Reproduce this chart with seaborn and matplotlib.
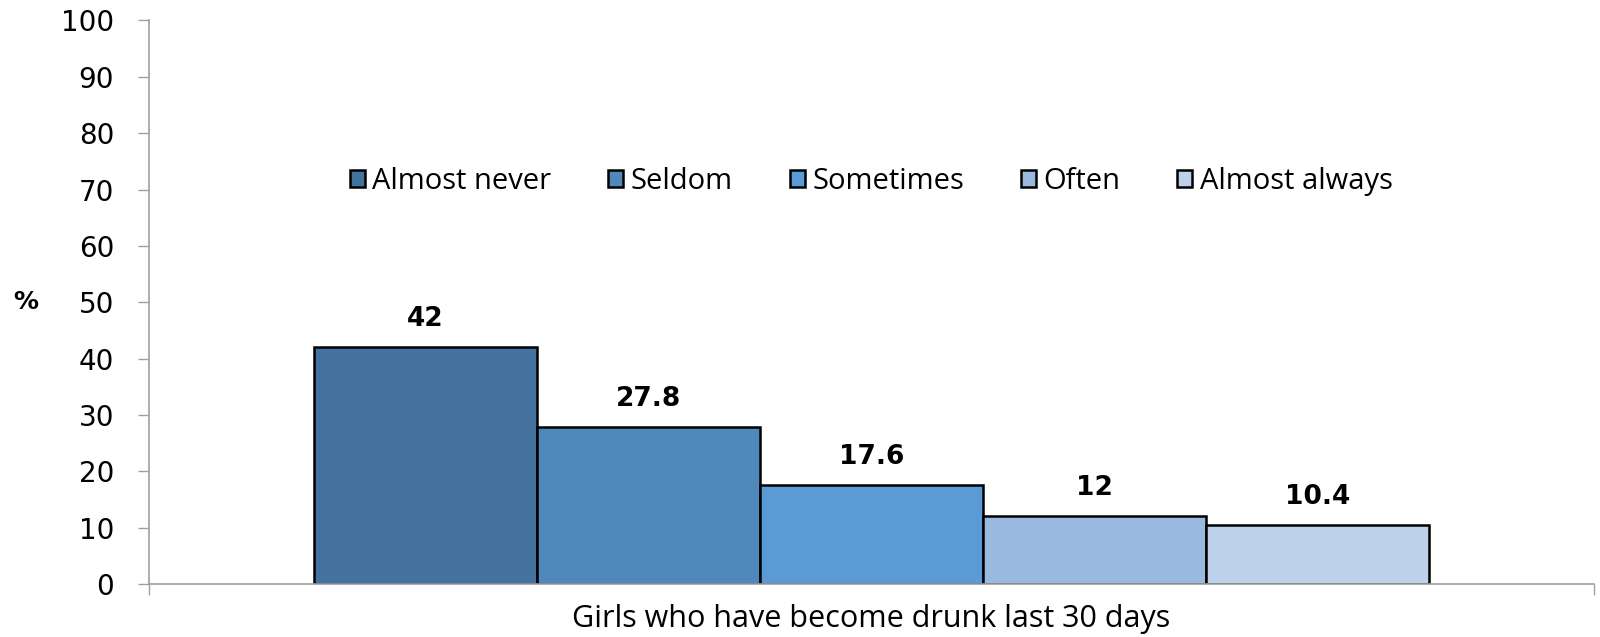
import matplotlib
matplotlib.use('Agg')
import matplotlib.pyplot as plt
import seaborn as sns
import pandas as pd

# Data
category = 'Girls who have become drunk last 30 days'
levels = ['Almost never', 'Seldom', 'Sometimes', 'Often', 'Almost always']
values = [42, 27.8, 17.6, 12, 10.4]
colors = ['#44739F', '#4F89BC', '#5B9BD5', '#9AB9DF', '#BDD1EA']
yticks = list(range(0, 101, 10))

df = pd.DataFrame({'group': [category] * len(levels), 'freq': levels, 'pct': values})

sns.set_style('white')
plt.rcParams['font.family'] = ['DejaVu Sans']
plt.rcParams['text.color'] = 'black'
plt.rcParams['xtick.color'] = 'black'
plt.rcParams['ytick.color'] = 'black'
plt.rcParams['axes.labelcolor'] = 'black'

fig = plt.figure(figsize=(16, 6.37), dpi=100)
ax = fig.add_axes([0.093, 0.083, 0.903, 0.885])

sns.barplot(data=df, x='group', y='pct', hue='freq', hue_order=levels,
            palette=colors, width=0.772, gap=0, edgecolor='black',
            linewidth=1.8, saturation=1, ax=ax)

# value labels above bars
for cont in ax.containers:
    ax.bar_label(cont, fmt='%g', padding=11, fontsize=19, fontweight='bold', color='black')

ax.set_xlim(-0.5, 0.5)
ax.set_ylim(0, 100)
ax.set_yticks(yticks)
ax.tick_params(axis='y', labelsize=20, length=8, width=1, color='#A0A0A0', pad=17,
               left=True, direction='out', labelcolor='black')
ax.tick_params(axis='x', length=0, pad=14, labelcolor='black')
ax.set_xticks([0])
ax.set_xticklabels([category], fontsize=22, family='Open Sans')
ax.set_xticks([-0.5, 0.5], minor=True)
ax.tick_params(axis='x', which='minor', length=8, width=1, color='#A0A0A0', bottom=True)
ax.set_xlabel('')

for s in ['top', 'right']:
    ax.spines[s].set_visible(False)
for s in ['left', 'bottom']:
    ax.spines[s].set_color('#A0A0A0')
    ax.spines[s].set_linewidth(1.2)

ax.set_ylabel('%', rotation=0, fontsize=18, fontweight='bold', va='center')
ax.yaxis.set_label_coords(-0.085, 0.5)

handles, labels = ax.get_legend_handles_labels()
ax.legend(handles, labels, loc='center', bbox_to_anchor=(0.5, 0.715), ncol=5,
          frameon=False, prop={'family': 'Open Sans', 'size': 21},
          handlelength=0.52, handleheight=0.52, handletextpad=0.25, columnspacing=1.95)

fig.savefig('out.png', dpi=100)
